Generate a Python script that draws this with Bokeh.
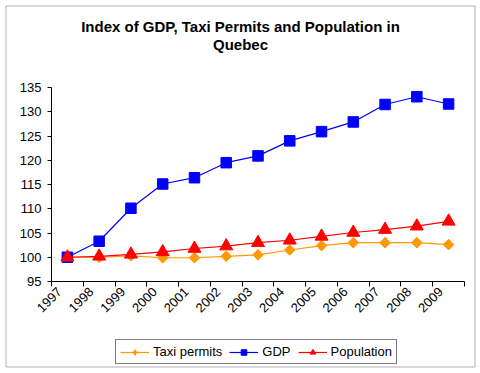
import math
from bokeh.plotting import figure
from bokeh.models import (FixedTicker, Legend, LegendItem, Range1d, LinearAxis, Label,
                          BoxAnnotation)
from bokeh.embed import file_html
from bokeh.resources import INLINE

years = ["1997", "1998", "1999", "2000", "2001", "2002", "2003",
         "2004", "2005", "2006", "2007", "2008", "2009"]
taxi_permits = [100.0, 100.0, 100.3, 99.9, 99.9, 100.2, 100.5,
                101.5, 102.4, 103.0, 103.0, 103.0, 102.6]
gdp = [100.0, 103.3, 110.1, 115.1, 116.4, 119.5, 120.9,
       124.0, 125.9, 127.9, 131.5, 133.1, 131.6]
population = [100.0, 100.2, 100.6, 101.1, 101.8, 102.3, 103.0,
              103.5, 104.3, 105.1, 105.7, 106.4, 107.4]
y_ticks = [95, 100, 105, 110, 115, 120, 125, 130, 135]
title_lines = ["Index of GDP, Taxi Permits and Population in", "Quebec"]

n = len(years)
xc = [i + 0.5 for i in range(n)]
label_pos = [i + 0.25 for i in range(n)]

FONT = "Liberation Sans"

# layout in pixels: the whole canvas is the frame, axes sit at fixed locations
W, H = 480, 373
AX_L, AX_R, AX_T, AX_B = 51, 464, 87, 281
ymin, ymax = y_ticks[0], y_ticks[-1]
ux = (AX_R - AX_L) / n
uy = (AX_B - AX_T) / (ymax - ymin)
x_range = Range1d(0 - AX_L / ux, n + (W - AX_R) / ux)
y_range = Range1d(ymin - (H - AX_B) / uy, ymax + AX_T / uy)


def px_x(px):
    return x_range.start + px / ux


def px_y(py):
    return y_range.end - py / uy


p = figure(width=W, height=H, output_backend="svg", toolbar_location=None,
           x_range=x_range, y_range=y_range,
           x_axis_type=None, y_axis_type=None, title=None,
           min_border=0)
p.background_fill_color = "white"
p.border_fill_color = "white"
p.outline_line_color = None
p.xgrid.visible = False
p.ygrid.visible = False

# chart border
p.add_layout(BoxAnnotation(left=px_x(5.5), right=px_x(474.5), top=px_y(5.5),
                           bottom=px_y(366.5), fill_alpha=0, line_color="black",
                           line_width=1))

for text, base in zip(title_lines, [26, 44]):
    p.add_layout(Label(x=px_x(240), y=px_y(base), text=text, text_align="center",
                       text_baseline="alphabetic", text_font=FONT,
                       text_font_size="15px", text_font_style="bold",
                       text_color="black"))

# y axis
yax = LinearAxis(ticker=FixedTicker(ticks=y_ticks), fixed_location=0,
                 bounds=(ymin, ymax))
yax.axis_line_color = "black"
yax.major_tick_line_color = "black"
yax.major_tick_out = 4
yax.major_tick_in = 0
yax.minor_tick_line_color = None
yax.major_label_text_font = FONT
yax.major_label_text_font_size = "13px"
yax.major_label_text_color = "black"
yax.major_label_standoff = 6
p.add_layout(yax, "left")

# x axis: boundary ticks as minor ticks, year labels per category
xax = LinearAxis(ticker=FixedTicker(ticks=label_pos, minor_ticks=list(range(n + 1))),
                 fixed_location=ymin, bounds=(0, n))
xax.axis_line_color = "black"
xax.major_tick_line_color = None
xax.major_tick_out = 0
xax.major_tick_in = 0
xax.minor_tick_line_color = "black"
xax.minor_tick_out = 5
xax.minor_tick_in = 0
xax.major_label_overrides = {x: y for x, y in zip(label_pos, years)}
xax.major_label_orientation = math.pi / 4
xax.major_label_text_font = FONT
xax.major_label_text_font_size = "13px"
xax.major_label_text_color = "black"
xax.major_label_standoff = 3
p.add_layout(xax, "below")

orange = "#FF9900"
blue = "#0000FF"
red = "#FF0000"

l1 = p.line(xc, taxi_permits, line_color=orange, line_width=1.2)
s1d = p.scatter(xc, taxi_permits, marker="diamond", size=10,
                fill_color=orange, line_color=orange)
s1 = p.scatter(xc, taxi_permits, marker="square", angle=math.pi / 4, size=7.5,
               fill_color=orange, line_color=orange)
l2 = p.line(xc, gdp, line_color=blue, line_width=1.2)
s2 = p.scatter(xc, gdp, marker="square", size=10.5, fill_color=blue, line_color=blue)
l3 = p.line(xc, population, line_color=red, line_width=1.2)
s3 = p.scatter(xc, population, marker="triangle", size=13, fill_color=red, line_color=red)

legend = Legend(items=[LegendItem(label="Taxi permits", renderers=[l1, s1d]),
                       LegendItem(label="GDP", renderers=[l2, s2]),
                       LegendItem(label="Population", renderers=[l3, s3])],
                orientation="horizontal", location=(115, 9))
legend.border_line_color = "black"
legend.border_line_width = 1
legend.background_fill_color = "white"
legend.background_fill_alpha = 1
legend.label_text_font = FONT
legend.label_text_font_size = "13px"
legend.label_text_color = "black"
legend.glyph_width = 29
legend.glyph_height = 14
legend.label_standoff = 4
legend.spacing = 7
legend.padding = 4
legend.margin = 0
legend.label_height = 14
p.add_layout(legend)

open("out.html", "w").write(file_html(p, INLINE))
